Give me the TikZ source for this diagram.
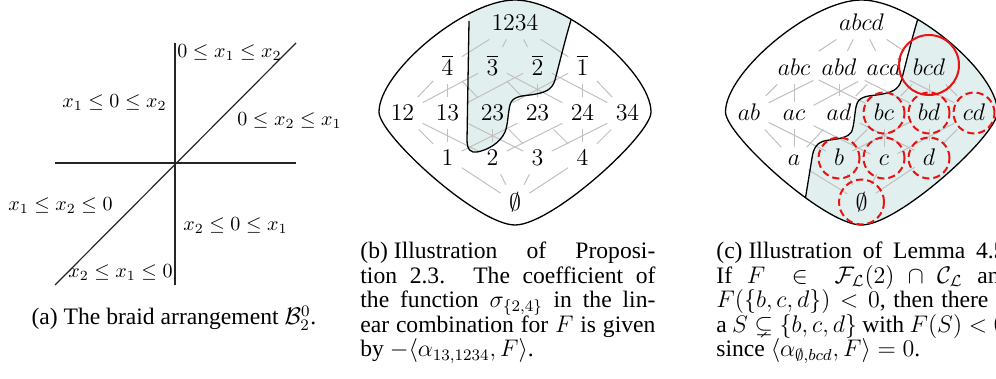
\documentclass[tikz,border=0pt]{standalone}
\usepackage{amsmath,amssymb}
\usepackage{fontspec}
\setmainfont{Liberation Serif}
\usetikzlibrary{calc}
\definecolor{shadec}{RGB}{226,239,239}
\definecolor{redc}{RGB}{232,20,20}
\definecolor{edgec}{RGB}{192,192,192}
\def\blobshape{(0,0) .. controls (50,0) and (136,72) .. (136,112) .. controls (136,135) and (37,225) .. (0,225) .. controls (-37,225) and (-136,135) .. (-136,112) .. controls (-136,72) and (-50,0) .. (0,0) -- cycle}
\begin{document}
\begin{tikzpicture}[x=0.5pt,y=-0.5pt,
  lab/.style={font=\fontsize{12.7}{15}\selectfont, inner sep=4pt, anchor=base},
  hasse/.style={draw=edgec, line width=0.5pt},
  outl/.style={draw=black, line width=0.65pt},
  bound/.style={draw=black, line width=0.65pt},
  axis/.style={draw=black!85, line width=0.6pt},
  ineq/.style={font=\fontsize{10}{12}\selectfont, inner sep=0pt, anchor=base west},
  capt/.style={font=\fontsize{11.8}{12.2}\selectfont, inner sep=0pt},
  redsolid/.style={draw=redc, line width=1pt},
  reddash/.style={draw=redc, line width=1pt, dash pattern=on 3.6pt off 2pt}]
\useasboundingbox (0,0) rectangle (996,379);
\clip (0,0) rectangle (996,379);

% ---------- (a) ----------
\coordinate (vt) at (175,43); \coordinate (vb) at (175,285);
\coordinate (hl) at (55,163); \coordinate (hr) at (296,163);
\coordinate (dl) at (55,285); \coordinate (dr) at (296,43);
\draw[axis] (vt) -- (vb);
\draw[axis] (hl) -- (hr);
\draw[axis] (dl) -- (dr);
\node[ineq] (r1) at (177,58) {$0\le x_1\le x_2$};
\node[ineq] (r2) at (62,108) {$x_1\le 0\le x_2$};
\node[ineq] (r3) at (237,126) {$0\le x_2\le x_1$};
\node[ineq] (r4) at (8,210.5) {$x_1\le x_2\le 0$};
\node[ineq] (r5) at (183,231) {$x_2\le 0\le x_1$};
\node[ineq] (r6) at (68,278) {$x_2\le x_1\le 0$};
\node[capt, anchor=base] (capa) at (174,325) {(a) The braid arrangement $\mathcal{B}_2^0$.};

% ---------- (b) ----------
\begin{scope}[shift={(515,0)}]
  \begin{scope}
    \clip \blobshape;
    \fill[shadec] (61,-10) -- (61,5) -- (56,20) .. controls (50,40) and (44,65) .. (40,80)
      .. controls (37,90) and (30,93) .. (15,95) .. controls (5,96) and (-3,97) .. (-5,105)
      .. controls (-7,112) and (-7,125) .. (-10,132)
      .. controls (-15,143) and (-27,150) .. (-38,152) .. controls (-44,153) and (-48,150) .. (-48,140)
      -- (-46,18) -- (-46,-10) -- cycle;
  \end{scope}
  \node[lab] (b1234) at (0,31) {$1234$};
  \node[lab] (b4b) at (-67.5,76) {$\overline{4}$};
  \node[lab] (b3b) at (-22.5,76) {$\overline{3}$};
  \node[lab] (b2b) at (22.5,76) {$\overline{2}$};
  \node[lab] (b1b) at (67.5,76) {$\overline{1}$};
  \node[lab] (b12) at (-112.5,121) {$12$};
  \node[lab] (b13) at (-67.5,121) {$13$};
  \node[lab] (b23) at (-22.5,121) {$23$};
  \node[lab] (b14) at (22.5,121) {$23$};
  \node[lab] (b24) at (67.5,121) {$24$};
  \node[lab] (b34) at (112.5,121) {$34$};
  \node[lab] (b1) at (-67.5,166) {$1$};
  \node[lab] (b2) at (-22.5,166) {$2$};
  \node[lab] (b3) at (22.5,166) {$3$};
  \node[lab] (b4) at (67.5,166) {$4$};
  \node[lab] (bE) at (0,211) {$\emptyset$};
  \foreach \u/\v in {b1234/b4b,b1234/b3b,b1234/b2b,b1234/b1b,
      b4b/b12,b4b/b13,b4b/b23,b3b/b12,b3b/b14,b3b/b24,
      b2b/b13,b2b/b14,b2b/b34,b1b/b23,b1b/b24,b1b/b34,
      b1/b12,b1/b13,b1/b14,b2/b12,b2/b23,b2/b24,
      b3/b13,b3/b23,b3/b34,b4/b14,b4/b24,b4/b34,
      bE/b1,bE/b2,bE/b3,bE/b4}
    \draw[hasse] (\u) -- (\v);
  \begin{scope}
    \clip \blobshape;
    \draw[bound] (61,5) -- (56,20) .. controls (50,40) and (44,65) .. (40,80)
      .. controls (37,90) and (30,93) .. (15,95) .. controls (5,96) and (-3,97) .. (-5,105)
      .. controls (-7,112) and (-7,125) .. (-10,132)
      .. controls (-15,143) and (-27,150) .. (-38,152) .. controls (-44,153) and (-48,150) .. (-48,140)
      -- (-46,21);
  \end{scope}
  \draw[outl] \blobshape;
\end{scope}
\node[capt, anchor=base west] (capb) at (360,259) {\parbox[t]{147.5pt}{\tolerance=10000
(b)\hspace{3pt}Illustration of Proposi-\linebreak tion 2.3. The coefficient of\linebreak
the function $\sigma_{\{2,4\}}$ in the lin-\linebreak ear combination for $F$ is given\linebreak
by $-\langle\alpha_{13,1234},F\rangle$.}};

% ---------- (c) ----------
\begin{scope}[shift={(861.5,0)}]
  \begin{scope}
    \clip \blobshape;
    \fill[shadec] (61,-10) -- (61,5) -- (56,20) .. controls (50,40) and (44,65) .. (40,80)
      .. controls (37,90) and (30,93) .. (15,95) .. controls (5,96) and (-3,97) .. (-5,105)
      .. controls (-7,112) and (-7,125) .. (-10,132)
      .. controls (-13,137) and (-22,139) .. (-32,140) .. controls (-42,141) and (-47,145) .. (-49,155)
      -- (-58,210) -- (-60,240) -- (200,240) -- (200,-10) -- cycle;
  \end{scope}
  \node[lab] (cabcd) at (0,31) {$abcd$};
  \node[lab] (cabc) at (-67.5,76) {$abc$};
  \node[lab] (cabd) at (-22.5,76) {$abd$};
  \node[lab] (cacd) at (22.5,76) {$acd$};
  \node[lab] (cbcd) at (67.5,76) {$bcd$};
  \node[lab] (cab) at (-112.5,121) {$ab$};
  \node[lab] (cac) at (-67.5,121) {$ac$};
  \node[lab] (cad) at (-22.5,121) {$ad$};
  \node[lab] (cbc) at (22.5,121) {$bc$};
  \node[lab] (cbd) at (67.5,121) {$bd$};
  \node[lab] (ccd) at (112.5,121) {$cd$};
  \node[lab] (ca) at (-67.5,166) {$a$};
  \node[lab] (cb) at (-22.5,166) {$b$};
  \node[lab] (cc) at (22.5,166) {$c$};
  \node[lab] (cd) at (67.5,166) {$d$};
  \node[lab] (cE) at (0,211) {$\emptyset$};
  \foreach \u/\v in {cabcd/cabc,cabcd/cabd,cabcd/cacd,cabcd/cbcd,
      cabc/cab,cabc/cac,cabc/cbc,cabd/cab,cabd/cad,cabd/cbd,
      cacd/cac,cacd/cad,cacd/ccd,cbcd/cbc,cbcd/cbd,cbcd/ccd,
      ca/cab,ca/cac,ca/cad,cb/cab,cb/cbc,cb/cbd,
      cc/cac,cc/cbc,cc/ccd,cd/cad,cd/cbd,cd/ccd,
      cE/ca,cE/cb,cE/cc,cE/cd}
    \draw[hasse] (\u) -- (\v);
  \begin{scope}
    \clip \blobshape;
    \draw[bound] (61,5) -- (56,20) .. controls (50,40) and (44,65) .. (40,80)
      .. controls (37,90) and (30,93) .. (15,95) .. controls (5,96) and (-3,97) .. (-5,105)
      .. controls (-7,112) and (-7,125) .. (-10,132)
      .. controls (-13,137) and (-22,139) .. (-32,140) .. controls (-42,141) and (-47,145) .. (-49,155)
      -- (-58,210) -- (-60,240);
  \end{scope}
  \draw[outl] \blobshape;
  \draw[redsolid] ($(cbcd.base)+(0,-11)$) circle[radius=15pt];
  \foreach \n in {cbc,cbd,ccd,cb,cc,cd}
    \draw[reddash] ($(\n.base)+(0,-8)$) circle[radius=10.25pt];
  \draw[reddash] ($(cE.base)+(0,-9)$) circle[radius=11.25pt];
\end{scope}
\node[capt, anchor=base west] (capc) at (716,259) {\parbox[t]{147.5pt}{\tolerance=10000
(c)\hspace{3pt}Illustration of Lemma 4.5.\linebreak
If $F\in\mathcal{F}_{\mathcal{L}}(2)\cap\mathcal{C}_{\mathcal{L}}$ and\linebreak
$F(\{b,c,d\})<0$, then there is\linebreak
a $S\subsetneq\{b,c,d\}$ with $F(S)<0$,\linebreak
since $\langle\alpha_{\emptyset,bcd},F\rangle=0$.}};
\end{tikzpicture}
\end{document}
